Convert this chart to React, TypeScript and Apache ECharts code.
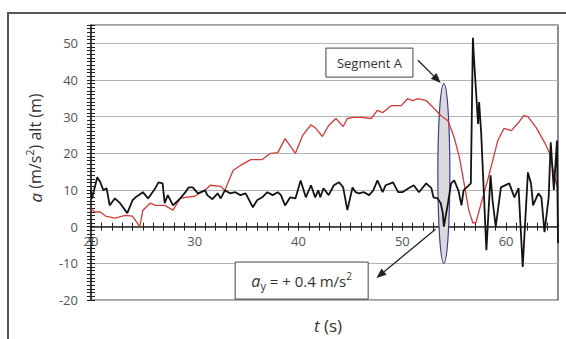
import React, { useEffect, useRef } from "react";
import * as echarts from "echarts";

// Altitude (red) – time (s) and altitude (m)
const altTime = [20.0, 20.4, 20.9, 21.4, 22.3, 23.3, 24.0, 24.7, 25.0, 25.7, 26.2, 27.1, 27.9, 28.6, 29.1, 30.0, 31.0, 31.5, 32.5, 32.9, 33.7, 34.4, 35.4, 36.5, 37.3, 38.0, 38.7, 39.7, 40.4, 41.2, 41.6, 42.3, 42.9, 43.6, 44.3, 44.7, 45.3, 46.0, 47.0, 47.6, 48.1, 48.9, 49.9, 50.5, 51.0, 51.5, 52.3, 52.8, 53.7, 54.4, 55.0, 55.5, 55.9, 56.4, 56.8, 57.1, 57.6, 58.3, 59.0, 59.2, 59.8, 60.5, 61.2, 61.7, 62.1, 62.9, 63.7, 64.2, 64.6, 65.0];
const altitude = [4.8, 4.0, 4.0, 2.9, 2.3, 3.1, 2.9, 0.0, 4.5, 6.4, 5.8, 5.8, 4.5, 7.7, 8.0, 8.3, 10.0, 11.3, 11.0, 9.9, 15.4, 16.7, 18.3, 18.3, 20.0, 20.2, 24.0, 20.0, 24.9, 27.8, 27.0, 24.6, 27.6, 29.5, 27.3, 29.5, 29.8, 29.8, 29.5, 31.7, 31.1, 33.0, 33.0, 34.9, 34.4, 34.9, 34.4, 33.0, 30.3, 28.9, 24.3, 18.9, 12.6, 4.5, 1.0, 1.2, 6.4, 13.5, 21.3, 23.5, 26.8, 26.2, 28.4, 30.3, 30.0, 27.0, 23.0, 20.0, 14.5, 10.0];

// Acceleration (black) – time (s) and a (m/s2)
const accTime = [20.0, 20.1, 20.6, 20.9, 21.2, 21.5, 21.8, 22.3, 22.8, 23.5, 24.0, 24.3, 25.0, 25.5, 26.2, 26.5, 26.9, 27.1, 27.4, 27.9, 28.6, 29.1, 29.4, 29.8, 30.3, 31.0, 31.2, 31.7, 32.2, 32.5, 32.9, 33.4, 33.9, 34.4, 34.9, 35.6, 36.0, 36.5, 37.0, 37.5, 38.0, 38.3, 38.7, 39.2, 39.7, 40.2, 40.7, 41.2, 41.6, 41.9, 42.1, 42.4, 42.9, 43.4, 43.9, 44.3, 44.7, 45.2, 45.5, 45.8, 46.3, 46.8, 47.2, 47.6, 48.1, 48.4, 49.1, 49.6, 50.0, 50.6, 51.1, 51.6, 52.3, 52.8, 53.0, 53.4, 53.7, 53.9, 54.0, 54.4, 54.7, 55.0, 55.4, 55.7, 55.9, 56.6, 56.8, 56.9, 57.3, 57.4, 57.6, 58.1, 58.5, 58.7, 59.0, 59.5, 60.3, 60.8, 61.2, 61.6, 62.1, 62.4, 62.6, 63.1, 63.4, 63.7, 64.1, 64.3, 64.6, 64.9, 65.0];
const accel = [9.9, 7.7, 13.5, 12.1, 9.9, 10.5, 5.8, 7.7, 6.4, 3.7, 7.2, 8.0, 9.4, 7.7, 10.5, 12.1, 11.8, 6.4, 8.6, 5.8, 7.7, 9.4, 10.7, 10.7, 9.1, 9.9, 8.6, 7.5, 9.1, 7.7, 9.9, 9.1, 9.4, 8.6, 9.1, 5.3, 7.2, 8.0, 9.4, 8.6, 9.4, 8.6, 5.8, 8.0, 7.7, 12.6, 8.0, 11.3, 8.0, 9.9, 8.0, 10.5, 8.6, 11.3, 12.1, 10.7, 4.5, 10.7, 9.4, 9.1, 9.4, 8.6, 9.9, 12.6, 9.4, 11.3, 12.1, 9.4, 9.4, 10.5, 11.3, 9.4, 11.8, 10.5, 8.0, 7.7, 6.4, 3.7, 0.0, 6.4, 11.8, 12.6, 9.9, 5.8, 9.9, 11.8, 51.5, 46.0, 28.0, 34.0, 25.4, -6.4, 14.0, 7.0, 0.0, 10.7, 11.8, 8.0, 10.5, -11.0, 14.8, 11.8, 5.8, 9.1, 8.0, -1.5, 8.0, 23.0, 10.0, 23.5, -4.5];

// Axis extents and tick steps
const xRange = [20, 65];
const yRange = [-20, 55];
const majorStep = 10;
const minorStep = 1;

// Annotation anchors (data coordinates)
const segmentA = { t: 54.0, top: 39, bottom: -10 };
const segmentLabel = { t: 46.83, a: 44.75, text: "Segment A" };
const segArrow = { from: [51.5, 45.4], to: [53.7, 39.2] };
const ayLabel = { t: 40.3, a: -14.7 };
const ayArrow = { from: [53.2, -0.7], to: [47.5, -14.0] };

const FONT = '"Open Sans", "Noto Sans", sans-serif';
const W = 566;
const H = 339;
const GRID = { left: 91, right: 8, top: 25, bottom: 39 };

function arrow(from: number[], to: number[], color: string) {
  const dx = to[0] - from[0];
  const dy = to[1] - from[1];
  const len = Math.hypot(dx, dy);
  const ux = dx / len;
  const uy = dy / len;
  const hl = 10;
  const hw = 4;
  const bx = to[0] - ux * hl;
  const by = to[1] - uy * hl;
  return [
    { type: "line", z: 20, silent: true, shape: { x1: from[0], y1: from[1], x2: bx, y2: by }, style: { stroke: color, lineWidth: 1.3 } },
    {
      type: "polygon",
      z: 20,
      silent: true,
      shape: { points: [[to[0], to[1]], [bx - uy * hw, by + ux * hw], [bx + uy * hw, by - ux * hw]] },
      style: { fill: color },
    },
  ];
}

export default function App() {
  const ref = useRef<HTMLDivElement>(null);

  useEffect(() => {
    if (!ref.current) return;
    const chart = echarts.init(ref.current, null, { renderer: "svg" });

    const labelFmt = (v: number) => (Math.abs(v % majorStep) < 1e-9 ? String(v) : "");
    const tickStyle = { color: "#222", width: 1 };

    // x axis sits at a = 0: shift it up from the grid bottom by the scale's distance
    const plotH = H - GRID.top - GRID.bottom;
    const zeroOffset = -plotH * (0 - yRange[0]) / (yRange[1] - yRange[0]);

    const option: any = {
      animation: false,
      grid: {
        ...GRID,
        show: true,
        borderColor: "#444",
        borderWidth: 1.2,
        backgroundColor: "transparent",
      },
      xAxis: [
        {
          type: "value",
          min: xRange[0],
          max: xRange[1],
          interval: minorStep,
          position: "bottom",
          offset: zeroOffset,
          axisLine: { show: true, onZero: false, lineStyle: { color: "#222", width: 1.5 } },
          axisTick: { show: true, length: 4, inside: false, lineStyle: tickStyle },
          axisLabel: { formatter: labelFmt, color: "#555", fontSize: 13, fontFamily: FONT, margin: 8, showMaxLabel: false },
          splitLine: { show: false },
        },
        {
          type: "value",
          min: xRange[0],
          max: xRange[1],
          interval: minorStep,
          position: "bottom",
          offset: zeroOffset,
          axisLine: { show: false, onZero: false },
          axisTick: { show: true, length: 4, inside: true, lineStyle: tickStyle },
          axisLabel: { show: false },
          splitLine: { show: false },
        },
      ],
      yAxis: [
        {
          type: "value",
          min: yRange[0],
          max: yRange[1],
          interval: minorStep,
          position: "left",
          axisLine: { show: true, onZero: false, lineStyle: { color: "#222", width: 1.5 } },
          axisTick: { show: true, length: 4, inside: false, lineStyle: tickStyle },
          axisLabel: { formatter: labelFmt, color: "#555", fontSize: 13, fontFamily: FONT, margin: 13 },
          splitLine: { show: false },
        },
        {
          type: "value",
          min: yRange[0],
          max: yRange[1],
          interval: minorStep,
          position: "left",
          axisLine: { show: false, onZero: false },
          axisTick: { show: true, length: 4, inside: true, lineStyle: tickStyle },
          axisLabel: { show: false },
          splitLine: { show: false },
        },
        {
          type: "value",
          min: yRange[0],
          max: yRange[1],
          interval: majorStep,
          position: "left",
          axisLine: { show: false, onZero: false },
          axisTick: { show: false },
          axisLabel: { show: false },
          splitLine: { show: true, lineStyle: { color: "#b4b4b4", width: 1 } },
        },
      ],
      series: [
        {
          type: "line",
          name: "alt",
          xAxisIndex: 0,
          yAxisIndex: 0,
          data: altTime.map((t, i) => [t, altitude[i]]),
          symbol: "none",
          lineStyle: { color: "#d43a3a", width: 1.3 },
          z: 3,
          silent: true,
        },
        {
          type: "line",
          name: "a",
          xAxisIndex: 0,
          yAxisIndex: 0,
          data: accTime.map((t, i) => [t, accel[i]]),
          symbol: "none",
          lineStyle: { color: "#141414", width: 1.8 },
          z: 4,
          silent: true,
        },
      ],
    };
    chart.setOption(option);

    const px = (t: number, v: number) => chart.convertToPixel({ xAxisIndex: 0, yAxisIndex: 0 }, [t, v]) as number[];

    const eTop = px(segmentA.t, segmentA.top);
    const eBot = px(segmentA.t, segmentA.bottom);
    const segC = px(segmentLabel.t, segmentLabel.a);
    const ayC = px(ayLabel.t, ayLabel.a);
    const segW = 87, segH = 29;
    const ayW = 133, ayH = 37;

    const graphic: any[] = [
      // outer frame
      { type: "rect", z: 0, silent: true, shape: { x: 8, y: 13, width: 620, height: 400 }, style: { fill: "none", stroke: "#555", lineWidth: 2 } },
      // segment ellipse
      {
        type: "ellipse",
        z: 1,
        silent: true,
        shape: { cx: eTop[0], cy: (eTop[1] + eBot[1]) / 2, rx: 6, ry: (eBot[1] - eTop[1]) / 2 },
        style: { fill: "#d9d9de", stroke: "#3d3d90", lineWidth: 1.2 },
      },
      // Segment A box
      {
        type: "rect",
        z: 20,
        silent: true,
        shape: { x: segC[0] - segW / 2, y: segC[1] - segH / 2, width: segW, height: segH },
        style: { fill: "#fff", stroke: "#444", lineWidth: 1 },
      },
      {
        type: "text",
        z: 21,
        silent: true,
        x: segC[0],
        y: segC[1],
        style: { text: segmentLabel.text, fontSize: 13, fontFamily: FONT, fill: "#333", align: "center", verticalAlign: "middle" },
      },
      ...arrow(px(segArrow.from[0], segArrow.from[1]), px(segArrow.to[0], segArrow.to[1]), "#222"),
      // a_y box
      {
        type: "rect",
        z: 20,
        silent: true,
        shape: { x: ayC[0] - ayW / 2, y: ayC[1] - ayH / 2, width: ayW, height: ayH },
        style: { fill: "#fff", stroke: "#444", lineWidth: 1 },
      },
      {
        type: "text",
        z: 21,
        silent: true,
        x: ayC[0],
        y: ayC[1],
        style: {
          text: "{i|a}{sub|y}{n| = + 0.4 m/s}{sup|2}",
          fontSize: 15,
          fontFamily: FONT,
          fill: "#333",
          align: "center",
          verticalAlign: "middle",
          rich: {
            i: { fontSize: 16, fontStyle: "italic", fontFamily: FONT, fill: "#333", lineHeight: 20, verticalAlign: "middle" },
            sub: { fontSize: 11, fontFamily: FONT, fill: "#333", lineHeight: 20, verticalAlign: "bottom" },
            n: { fontSize: 15, fontFamily: FONT, fill: "#333", lineHeight: 20, verticalAlign: "middle" },
            sup: { fontSize: 10, fontFamily: FONT, fill: "#333", lineHeight: 20, verticalAlign: "top" },
          },
        },
      },
      ...arrow(px(ayArrow.from[0], ayArrow.from[1]), px(ayArrow.to[0], ayArrow.to[1]), "#222"),
      // axis titles
      {
        type: "text",
        z: 21,
        silent: true,
        x: 35,
        y: 148,
        rotation: Math.PI / 2,
        style: {
          text: "{i|a}{n| (m/s}{sup|2}{n|) alt (m)}",
          fontSize: 16,
          fontFamily: FONT,
          fill: "#333",
          align: "center",
          verticalAlign: "middle",
          rich: {
            i: { fontSize: 17, fontStyle: "italic", fontFamily: FONT, fill: "#333", lineHeight: 22, verticalAlign: "middle" },
            n: { fontSize: 16, fontFamily: FONT, fill: "#333", lineHeight: 22, verticalAlign: "middle" },
            sup: { fontSize: 11, fontFamily: FONT, fill: "#333", lineHeight: 22, verticalAlign: "top" },
          },
        },
      },
      {
        type: "text",
        z: 21,
        silent: true,
        x: 328,
        y: 325,
        style: {
          text: "{i|t}{n| (s)}",
          fontSize: 17,
          fontFamily: FONT,
          fill: "#333",
          align: "center",
          verticalAlign: "middle",
          rich: {
            i: { fontSize: 17, fontStyle: "italic", fontFamily: FONT, fill: "#333" },
            n: { fontSize: 17, fontFamily: FONT, fill: "#333" },
          },
        },
      },
    ];
    chart.setOption({ graphic });

    return () => chart.dispose();
  }, []);

  return <div ref={ref} style={{ width: W, height: H, position: "absolute", left: 0, top: 0 }} />;
}
